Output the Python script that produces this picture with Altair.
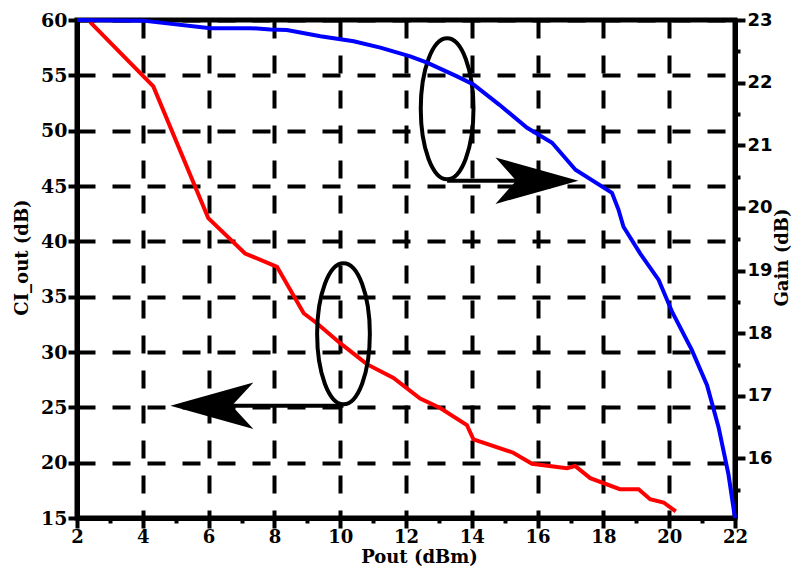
import altair as alt
import pandas as pd

# ---- data ----
pout_ci = [2.4, 4.32, 5.99, 7.11, 8.08, 8.89, 9.29, 10.0, 10.81, 11.62, 12.43, 13.04,
           13.85, 14.05, 15.26, 15.83, 16.89, 17.14, 17.6, 18.5, 19.07, 19.42, 19.83, 20.2]
ci_out = [59.8, 54.0, 42.1, 38.9, 37.7, 33.5, 32.6, 30.8, 28.9, 27.65, 25.8, 24.94,
          23.4, 22.1, 20.9, 19.9, 19.5, 19.7, 18.6, 17.6, 17.6, 16.7, 16.4, 15.6]

pout_gain = [2.0, 4.0, 6.06, 7.27, 7.88, 8.38, 9.4, 10.41, 11.22, 12.13, 12.64, 13.55,
             14.05, 14.56, 14.83, 15.68, 16.44, 17.15, 18.26, 18.46, 18.61, 19.12, 19.68,
             20.09, 20.69, 21.15, 21.5, 21.8, 22.0]
gain = [23.0, 22.99, 22.87, 22.87, 22.85, 22.84, 22.74, 22.66, 22.56, 22.42, 22.32, 22.1,
        21.97, 21.76, 21.65, 21.28, 21.04, 20.61, 20.24, 19.97, 19.70, 19.27, 18.85,
        18.34, 17.73, 17.17, 16.5, 15.75, 15.05]

x_ticks = list(range(2, 23))
ci_ticks = list(range(15, 61, 5))
gain_ticks = [v / 2 for v in range(31, 47)]

# annotation anchors (in Pout / CI_out units)
ell_x = [10.1, 13.25]
ell_y = [31.64, 51.97]
shaft_x = [6.6, 13.25]
shaft_x2 = [10.1, 15.95]
shaft_y = [25.15, 45.48]
head_x = [6.1, 15.98]
head_y = [25.15, 45.48]

ELLIPSE = ("M 0 -1 C 0.2066 -1 0.374 -0.5523 0.374 0 C 0.374 0.5523 0.2066 1 0 1 "
           "C -0.2066 1 -0.374 0.5523 -0.374 0 C -0.374 -0.5523 -0.2066 -1 0 -1 Z")
HEAD_L = "M -1 0 L 1 -0.56 L 0.48 0 L 1 0.56 Z"
HEAD_R = "M 1 0 L -1 -0.56 L -0.5 0 L -1 0.56 Z"

ci_df = pd.DataFrame({"x": pout_ci, "y": ci_out})
gain_df = pd.DataFrame({"x": pout_gain, "y": gain})
ell_df = pd.DataFrame({"x": ell_x, "y": ell_y})
shaft_df = pd.DataFrame({"x": shaft_x, "x2": shaft_x2, "y": shaft_y})
head_df = pd.DataFrame({"x": head_x, "y": head_y, "shape": [HEAD_L, HEAD_R]})

SERIF = "DejaVu Serif"
SANS = "DejaVu Sans"

xscale = alt.Scale(domain=[2, 22], nice=False, zero=False)
yscale = alt.Scale(domain=[15, 60], nice=False, zero=False)

x_axis = alt.Axis(
    values=x_ticks,
    format="d",
    labelExpr="datum.value % 2 === 0 ? datum.label : ''",
    tickSize={"condition": {"test": "datum.value % 2 === 0", "value": 10}, "value": 5},
    gridOpacity={"condition": {"test": "datum.value % 2 === 0", "value": 1}, "value": 0},
    grid=True, gridColor="black", gridWidth=4, gridDash=[18, 17],
    domainColor="black", domainWidth=5, tickColor="black", tickWidth=4,
    labelFont=SERIF, labelFontSize=18, labelFontWeight="bold", labelColor="black",
    labelPadding=0, labelFlush=False, labelOverlap=False,
    title="Pout (dBm)", titleFont=SERIF, titleFontSize=18, titleFontWeight="bold",
    titleColor="black", titleX=342, titleY=39, titleBaseline="middle", titleAlign="center",
)

y_axis = alt.Axis(
    values=ci_ticks,
    format="d",
    grid=True, gridColor="black", gridWidth=4, gridDash=[18, 17],
    domainColor="black", domainWidth=5, tickColor="black", tickWidth=4, tickSize=9,
    labelFont=SERIF, labelFontSize=19, labelFontWeight="bold", labelColor="black",
    labelPadding=1, labelFlush=False, labelOverlap=False,
    title="CI_out (dB)", titleFont=SERIF, titleFontSize=18, titleFontWeight="bold",
    titleColor="black", titleAngle=270, titleX=-55, titleY=237,
    titleBaseline="middle", titleAlign="center",
)

gain_axis = alt.Axis(
    orient="right",
    values=gain_ticks,
    format=".0f",
    labelExpr="datum.value % 1 === 0 ? datum.label : ''",
    tickSize={"condition": {"test": "datum.value % 1 === 0", "value": 10}, "value": 5},
    grid=False,
    domainColor="black", domainWidth=5, tickColor="black", tickWidth=4,
    labelFont=SANS, labelFontSize=18, labelFontWeight="bold", labelColor="black",
    labelPadding=2, labelFlush=False, labelOverlap=False,
    title="Gain (dB)", titleFont=SERIF, titleFontSize=18, titleFontWeight="bold",
    titleColor="black", titleAngle=270, titleX=52, titleY=237,
    titleBaseline="alphabetic", titleAlign="center",
)

X = alt.X("x:Q", scale=xscale, axis=x_axis)
Y = alt.Y("y:Q", scale=yscale, axis=y_axis)

red = alt.Chart(ci_df).mark_line(color="#ff0000", strokeWidth=4).encode(
    x=X, y=Y, order=alt.Order("x:Q"),
)

ellipses = alt.Chart(ell_df).mark_point(
    shape=ELLIPSE, size=19881, filled=False, stroke="black", strokeWidth=4, opacity=1
).encode(x=X, y=Y)

shafts = alt.Chart(shaft_df).mark_rule(color="black", strokeWidth=4).encode(
    x=X, x2="x2:Q", y=Y,
)

heads = alt.Chart(head_df).mark_point(
    size=6889, filled=True, color="black", opacity=1, strokeWidth=0
).encode(
    x=X, y=Y,
    shape=alt.Shape("shape:N", scale=None, legend=None),
)

left_group = alt.layer(red, ellipses, shafts, heads)

blue = alt.Chart(gain_df).mark_line(color="#0000ff", strokeWidth=4).encode(
    x=X,
    y=alt.Y("y:Q", scale=alt.Scale(domain=[15.05, 23], nice=False, zero=False), axis=gain_axis),
    order=alt.Order("x:Q"),
)

chart = (
    alt.layer(left_group, blue)
    .resolve_scale(y="independent")
    .properties(
        width=658,
        height=498,
        padding={"left": 69, "top": 12, "right": 56, "bottom": 48},
        autosize=alt.AutoSizeParams(type="none"),
        background="white",
    )
    .configure_view(stroke="black", strokeWidth=5)
)

chart.save("out.html", embed_options={"renderer": "svg", "actions": False})
